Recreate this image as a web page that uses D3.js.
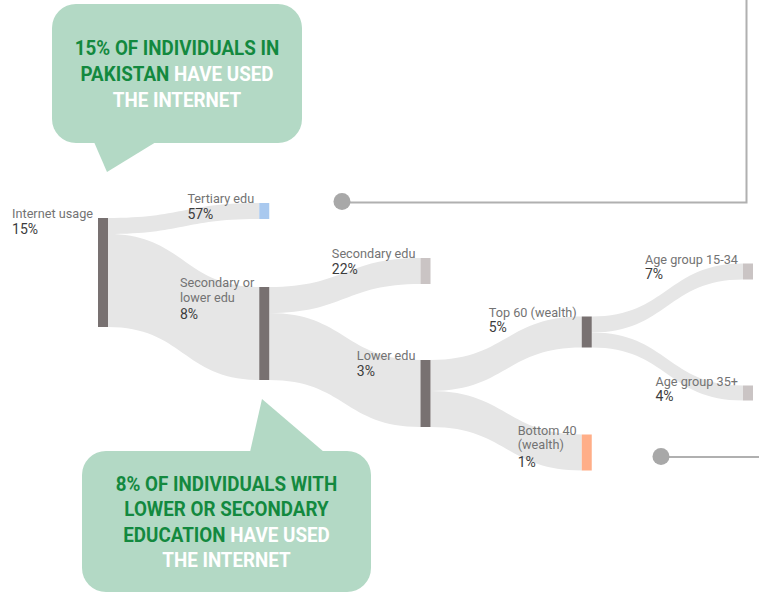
<!DOCTYPE html>
<html>
<head>
<meta charset="utf-8">
<script src="https://cdn.jsdelivr.net/npm/d3@7"></script>
<style>
html,body{margin:0;padding:0;background:#fff;}
svg{display:block;font-family:Roboto,"Noto Sans",sans-serif;}
</style>
</head>
<body>
<svg id="chart" width="759" height="592"></svg>
<script>
// ---------------- DATA ----------------
const nodeNames = ["Internet usage", "Tertiary edu", "Secondary or\nlower edu", "Secondary edu", "Lower edu",
                   "Top 60 (wealth)", "Bottom 40\n(wealth)", "Age group 15-34", "Age group 35+"];
const nodePercent = [15, 57, 8, 22, 3, 5, 1, 7, 4];
const nodeLevel = [0, 1, 1, 2, 2, 3, 3, 4, 4];
const linkSource = [0, 0, 2, 2, 4, 4, 5, 5];
const linkTarget = [1, 2, 3, 4, 5, 6, 7, 8];
const linkValue  = [16, 93, 26, 67, 31, 36, 16, 15];
const callout1 = [[["15% OF INDIVIDUALS IN", "g"]], [["PAKISTAN ", "g"], ["HAVE USED", "w"]], [["THE INTERNET", "w"]]];
const callout2 = [[["8% OF INDIVIDUALS WITH", "g"]], [["LOWER OR SECONDARY", "g"]], [["EDUCATION ", "g"], ["HAVE USED", "w"]], [["THE INTERNET", "w"]]];

// ---------------- STYLE / LAYOUT ----------------
const nodeColor = ["#787171", "#a9c9ef", "#787171", "#cac4c4", "#787171", "#787171", "#ffae88", "#cac4c4", "#cac4c4"];
const linkColor = "#e6e6e6";
const layout = { rootTop: 218, gaps: [0, 68, 76, 87, 106], shifts: [0, 19, 9, 0, 0], nodeWidth: 10 };
const W = 759, H = 592;

const svg = d3.select("#chart");

const x = d3.scaleLinear().domain([0, 4]).range([98, 743]);
const nodeValue = nodeNames.map((_, i) => {
  const inc = linkValue.filter((v, j) => linkTarget[j] === i);
  const out = linkValue.filter((v, j) => linkSource[j] === i);
  return Math.max(d3.sum(inc), d3.sum(out));
});
const h = d3.scaleLinear().domain([0, 109]).range([0, 109]);

// compute node positions
const nodes = nodeNames.map((n, i) => ({ i, name: n, pct: nodePercent[i], level: nodeLevel[i], value: nodeValue[i] }));
nodes.forEach(n => { n.x0 = x(n.level); n.x1 = n.x0 + layout.nodeWidth; n.h = h(n.value); });
nodes[0].y0 = layout.rootTop; nodes[0].y1 = nodes[0].y0 + nodes[0].h;
const parents = Array.from(new Set(linkSource));
parents.forEach(p => {
  const P = nodes[p];
  const kids = linkTarget.filter((t, j) => linkSource[j] === p).map(t => nodes[t]);
  const gap = layout.gaps[kids[0].level];
  const span = d3.sum(kids, k => k.h) + gap * (kids.length - 1);
  const center = (P.y0 + P.y1) / 2 + layout.shifts[kids[0].level];
  let y = center - span / 2;
  kids.forEach(k => { k.y0 = y; k.y1 = y + k.h; y = k.y1 + gap; });
});

// links
const srcOffset = {};
const links = linkValue.map((v, j) => {
  const S = nodes[linkSource[j]], T = nodes[linkTarget[j]];
  const off = srcOffset[S.i] || 0;
  srcOffset[S.i] = off + h(v);
  return { S, T, sy0: S.y0 + off, sy1: S.y0 + off + h(v), ty0: T.y0, ty1: T.y0 + h(v) };
});
const linkPath = l => {
  const x0 = l.S.x1, x1 = l.T.x0, xm = (x0 + x1) / 2;
  return `M${x0},${l.sy0}C${xm},${l.sy0} ${xm},${l.ty0} ${x1},${l.ty0}` +
         `L${x1},${l.ty1}C${xm},${l.ty1} ${xm},${l.sy1} ${x0},${l.sy1}Z`;
};
svg.append("g").selectAll("path").data(links).join("path")
  .attr("d", linkPath).attr("fill", linkColor);

svg.append("g").selectAll("rect").data(nodes).join("rect")
  .attr("x", d => d.x0).attr("y", d => d.y0)
  .attr("width", d => d.x1 - d.x0).attr("height", d => d.y1 - d.y0)
  .attr("fill", d => nodeColor[d.i]);

// labels
const lg = svg.append("g");
nodes.forEach(n => {
  const lines = n.name.split("\n");
  const g = lg.append("g");
  const texts = lines.map((ln, k) => g.append("text")
    .attr("y", n.y0 + k * 14.5).attr("font-size", 12.7).attr("fill", "#737373").text(ln));
  const pctY = n.y0 + (lines.length - 1) * 14.5 + (lines.length > 1 ? 17.5 : 15.5);
  const pt = g.append("text").attr("y", pctY).attr("font-size", 14).attr("fill", "#3c3c3c").text(n.pct + "%");
  const maxW = d3.max(texts.map(t => t.node().getComputedTextLength()).concat([pt.node().getComputedTextLength()]));
  const lx = n.x0 - 5 - maxW;
  g.selectAll("text").attr("x", lx);
});

// connector lines
const cg = svg.append("g");
cg.append("path").attr("d", "M342,202.5H746.5V0").attr("fill", "none").attr("stroke", "#b0b0b0").attr("stroke-width", 2);
cg.append("circle").attr("cx", 342).attr("cy", 201.5).attr("r", 8.5).attr("fill", "#a8a8a8");
cg.append("path").attr("d", "M661,457H759").attr("fill", "none").attr("stroke", "#b0b0b0").attr("stroke-width", 2);
cg.append("circle").attr("cx", 661).attr("cy", 456.5).attr("r", 8.5).attr("fill", "#a8a8a8");

// callouts
function callout(box, tail, lines, firstBase, lineH) {
  const g = svg.append("g");
  g.append("rect").attr("x", box[0]).attr("y", box[1]).attr("width", box[2]).attr("height", box[3])
    .attr("rx", 24).attr("fill", "#b3d9c5");
  g.append("path").attr("d", "M" + tail.map(p => p.join(",")).join("L") + "Z").attr("fill", "#b3d9c5");
  const cx = box[0] + box[2] / 2;
  lines.forEach((segs, k) => {
    const t = g.append("text").attr("text-anchor", "middle")
      .attr("font-size", 20).attr("font-weight", 700)
      .attr("transform", `translate(${cx},${firstBase + k * lineH}) scale(0.94,1)`);
    segs.forEach(s => t.append("tspan").attr("fill", s[1] === "g" ? "#13893f" : "#ffffff").text(s[0]));
  });
}
callout([52, 4, 250, 139], [[94, 142], [107, 172], [156, 142]], callout1, 55, 25.8);
callout([82, 451, 289, 141], [[250, 452], [262, 399], [324, 452]], callout2, 491, 25.3);
</script>
</body>
</html>
